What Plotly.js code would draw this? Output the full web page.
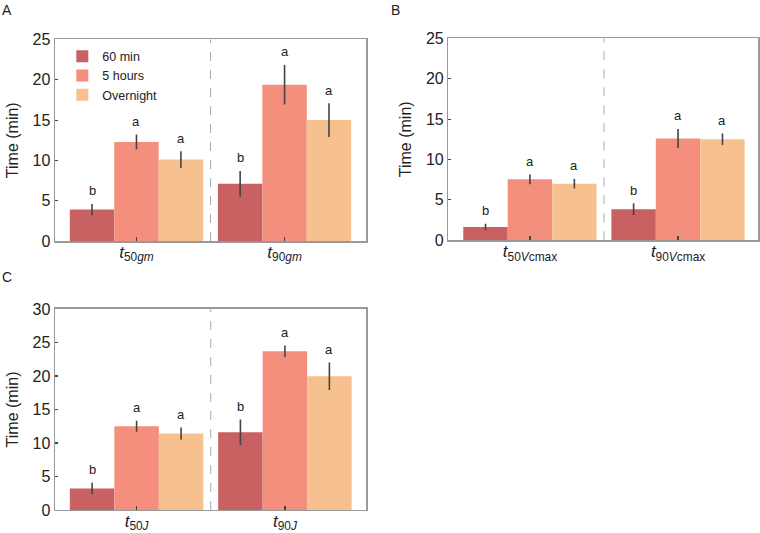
<!DOCTYPE html>
<html>
<head>
<meta charset="utf-8">
<script src="https://cdn.plot.ly/plotly-3.0.1.min.js"></script>
<style>html,body{margin:0;padding:0;background:#fff;}#chart{width:760px;height:533px;}</style>
</head>
<body>
<div id="chart"></div>
<script>
// ---- data ----
const seriesNames = ['60 min', '5 hours', 'Overnight'];
const seriesColors = ['#c96163', '#f48f7d', '#f7c18f'];
const letters = ['b', 'a', 'a'];

const catsA = ['<i>t</i><sub>50<i>gm</i></sub>', '<i>t</i><sub>90<i>gm</i></sub>'];
const a60 = [3.9, 7.1];
const a5h = [12.3, 19.4];
const aOn = [10.1, 15.0];
const a60Err = [0.7, 1.6];
const a5hErr = [0.9, 2.45];
const aOnErr = [1.05, 2.1];

const catsB = ['<i>t</i><sub>50<i>V</i>cmax</sub>', '<i>t</i><sub>90<i>V</i>cmax</sub>'];
const b60 = [1.65, 3.85];
const b5h = [7.55, 12.6];
const bOn = [7.0, 12.5];
const b60Err = [0.4, 0.72];
const b5hErr = [0.6, 1.18];
const bOnErr = [0.6, 0.72];

const catsC = ['<i>t</i><sub>50<i>J</i></sub>', '<i>t</i><sub>90<i>J</i></sub>'];
const c60 = [3.2, 11.6];
const c5h = [12.5, 23.7];
const cOn = [11.4, 19.95];
const c60Err = [0.87, 1.9];
const c5hErr = [0.82, 0.85];
const cOnErr = [0.92, 2.05];

const yMaxA = 25, yMaxB = 25, yMaxC = 30;

// ---- build ----
const FONT = 'Liberation Sans, Arial, sans-serif';
const panels = [
  {x: 'x', y: 'y', cats: catsA, vals: [a60, a5h, aOn], errs: [a60Err, a5hErr, aOnErr], legend: true},
  {x: 'x2', y: 'y2', cats: catsB, vals: [b60, b5h, bOn], errs: [b60Err, b5hErr, bOnErr], legend: false},
  {x: 'x3', y: 'y3', cats: catsC, vals: [c60, c5h, cOn], errs: [c60Err, c5hErr, cOnErr], legend: false}
];

const traces = [];
const annotations = [];
const shapes = [];
panels.forEach((p) => {
  const idx = p.cats.map((_, i) => i);
  p.vals.forEach((v, s) => {
    traces.push({
      type: 'bar', x: idx, y: v, name: seriesNames[s],
      xaxis: p.x, yaxis: p.y, showlegend: p.legend,
      marker: {color: seriesColors[s], line: {width: 0}},
      error_y: {type: 'data', array: p.errs[s], visible: true, color: '#444', thickness: 1.6, width: 0},
      hoverinfo: 'skip'
    });
    // significance letters: above the error bar, offset in pixels
    v.forEach((val, i) => {
      const off = (s - 1) * 0.3;
      annotations.push({
        xref: p.x, yref: p.y, x: i + off, y: val + p.errs[s][i],
        text: letters[s], showarrow: false, yanchor: 'middle', yshift: 13,
        font: {family: FONT, size: 13, color: '#222'}
      });
    });
  });
  shapes.push({
    type: 'line', xref: p.x, yref: p.y + ' domain', x0: 0.5, x1: 0.5, y0: 0, y1: 1,
    line: {color: '#aaaaaa', width: 1, dash: 'dash'}
  });
});

['A', 'B', 'C'].forEach((t, i) => {
  const pos = [[0, 1.0], [0.512, 1.0], [0, 0.5]][i];
  annotations.push({
    xref: 'paper', yref: 'paper', x: pos[0], y: pos[1], xanchor: 'left', yanchor: 'top',
    text: t, showarrow: false, font: {family: FONT, size: 14, color: '#222'}
  });
});

function xax(domain, cats, range) {
  return {
    domain: domain, range: range, tickmode: 'array', tickvals: cats.map((_, i) => i), ticktext: cats,
    ticks: 'inside', ticklen: 4, tickwidth: 1.2, tickcolor: '#444', ticklabelstandoff: -5,
    showline: true, mirror: true, linecolor: '#999', linewidth: 1.5,
    showgrid: false, zeroline: false, automargin: false,
    tickfont: {family: FONT, size: 17, color: '#222'}
  };
}
function yax(domain, ymax, anchor) {
  return {
    domain: domain, range: [0, ymax], dtick: 5, anchor: anchor,
    ticks: 'inside', ticklen: 3, tickwidth: 1.2, tickcolor: '#444',
    showline: true, mirror: true, linecolor: '#999', linewidth: 1.5,
    showgrid: false, zeroline: false, automargin: false,
    tickfont: {family: FONT, size: 16, color: '#222'},
    title: {text: 'Time (min)', font: {family: FONT, size: 16, color: '#222'}, standoff: 10}
  };
}

const layout = {
  width: 760, height: 533,
  margin: {l: 0, r: 0, t: 0, b: 0},
  paper_bgcolor: '#fff', plot_bgcolor: '#fff',
  barmode: 'group', bargap: 0.1, bargroupgap: 0,
  showlegend: true,
  legend: {x: 0.082, y: 0.922, xanchor: 'left', yanchor: 'top', bgcolor: 'rgba(0,0,0,0)',
           font: {family: FONT, size: 12.5, color: '#222'}, tracegroupgap: 0},
  xaxis: Object.assign(xax([0.0724, 0.4816], catsA, [-0.55, 1.55]), {anchor: 'y'}),
  yaxis: yax([0.5478, 0.9259], yMaxA, 'x'),
  xaxis2: Object.assign(xax([0.5901, 0.9974], catsB, [-0.55, 1.54]), {anchor: 'y2'}),
  yaxis2: yax([0.5492, 0.9281], yMaxB, 'x2'),
  xaxis3: Object.assign(xax([0.0724, 0.4822], catsC, [-0.55, 1.55]), {anchor: 'y3'}),
  yaxis3: yax([0.0432, 0.4203], yMaxC, 'x3'),
  annotations: annotations,
  shapes: shapes
};

Plotly.newPlot('chart', traces, layout, {displayModeBar: false, staticPlot: true});
</script>
</body>
</html>
